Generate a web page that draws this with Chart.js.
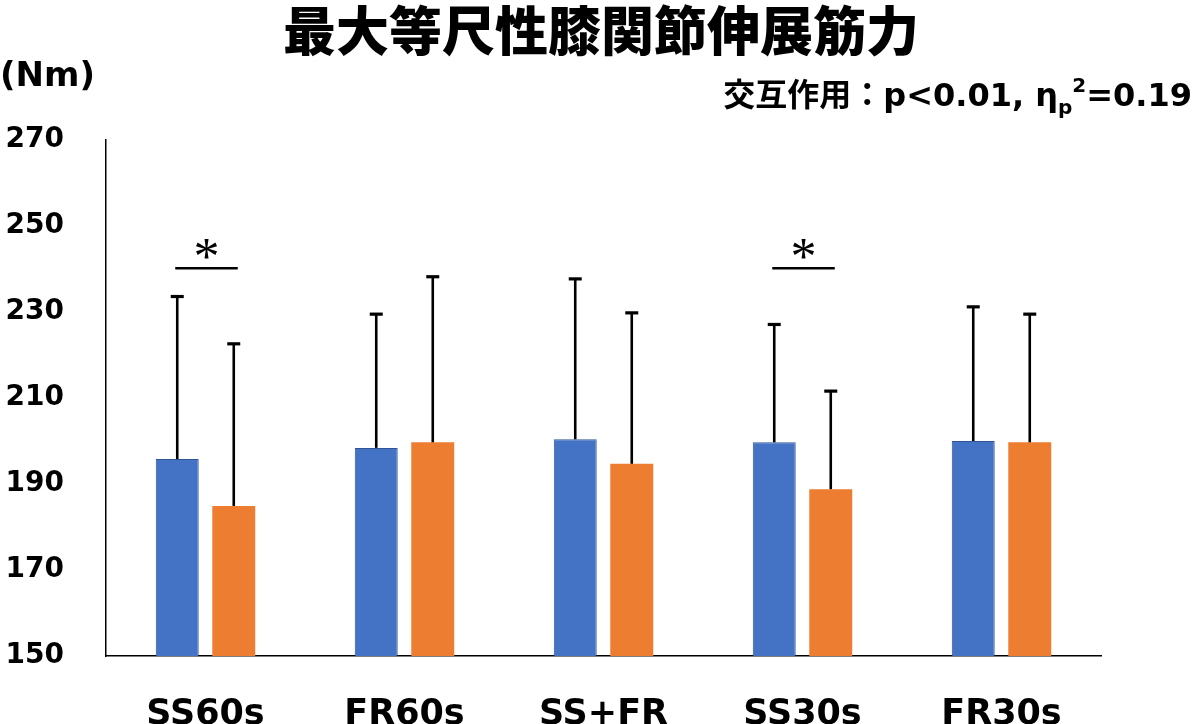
<!DOCTYPE html>
<html>
<head>
<meta charset="utf-8">
<script src="https://cdn.jsdelivr.net/npm/chart.js@4.4.1/dist/chart.umd.min.js"></script>
<style>
  html, body { margin: 0; padding: 0; background: #fff; }
  #wrap { width: 1200px; height: 724px; position: relative; }
</style>
</head>
<body>
<div id="wrap"><canvas id="chart"></canvas></div>
<script>
// データ (Nm)
const categories = ['SS60s', 'FR60s', 'SS+FR', 'SS30s', 'FR30s'];
const blueMean   = [195.8, 198.4, 200.4, 199.7, 200.0];
const blueSD     = [37.8, 31.1, 37.3, 27.4, 31.2];
const orangeMean = [184.9, 199.7, 194.7, 188.8, 199.7];
const orangeSD   = [37.7, 38.5, 35.1, 22.8, 29.8];
const yMin = 150, yMax = 270, yStep = 20;
const sigGroups = [0, 3];   // * のついた群
const sigLevel = 240.2;

const titleText = '最大等尺性膝関節伸展筋力';
const unitText = '(Nm)';

const latinFont = '"DejaVu Sans", "Noto Sans CJK JP", sans-serif';
const cjkFont = '"Noto Sans CJK JP", sans-serif';

// エラーバー（平均＋SD）
const errorBars = {
  id: 'errorBars',
  afterDatasetsDraw(chart) {
    const ctx = chart.ctx;
    const y = chart.scales.y;
    const sds = [blueSD, orangeSD];
    ctx.save();
    ctx.strokeStyle = '#000';
    chart.data.datasets.forEach((ds, di) => {
      chart.getDatasetMeta(di).data.forEach((bar, i) => {
        const top = y.getPixelForValue(ds.data[i] + sds[di][i]);
        ctx.lineWidth = 2.6;
        ctx.beginPath();
        ctx.moveTo(bar.x, bar.y);
        ctx.lineTo(bar.x, top);
        ctx.stroke();
        ctx.lineWidth = 3.2;
        ctx.beginPath();
        ctx.moveTo(bar.x - 6.5, top);
        ctx.lineTo(bar.x + 6.5, top);
        ctx.stroke();
      });
    });
    ctx.restore();
  }
};

// タイトル・有意差マーク・単位・交互作用の表記
const annotations = {
  id: 'annotations',
  afterDraw(chart) {
    const ctx = chart.ctx;
    const y = chart.scales.y;
    ctx.save();
    ctx.fillStyle = '#000';
    ctx.strokeStyle = '#000';

    ctx.font = '900 53px ' + cjkFont;
    ctx.textAlign = 'center';
    ctx.textBaseline = 'middle';
    ctx.fillText(titleText, 601, 31);

    sigGroups.forEach(i => {
      const b0 = chart.getDatasetMeta(0).data[i];
      const b1 = chart.getDatasetMeta(1).data[i];
      const ly = y.getPixelForValue(sigLevel);
      ctx.lineWidth = 2.5;
      ctx.beginPath();
      ctx.moveTo(b0.x - 2, ly);
      ctx.lineTo(b1.x + 4, ly);
      ctx.stroke();
      ctx.font = '52px "Liberation Serif", serif';
      ctx.textAlign = 'center';
      ctx.textBaseline = 'alphabetic';
      ctx.fillText('*', (b0.x + b1.x) / 2 + 1, ly + 6);
    });

    ctx.font = 'bold 34px ' + latinFont;
    ctx.textAlign = 'left';
    ctx.textBaseline = 'middle';
    ctx.fillText(unitText, 0, 77);

    // 交互作用：p<0.01, ηp²=0.19
    const jp = 'bold 32px ' + cjkFont;
    const big = 'bold 32px ' + latinFont;
    const small = 'bold 20px ' + latinFont;
    const parts = [
      { t: '交互作用：', f: jp, dy: 0 },
      { t: 'p<0.01, η', f: big, dy: 0 },
      { t: 'p', f: small, dy: 8 },
      { t: '2', f: small, dy: -14 },
      { t: '=0.19', f: big, dy: 0 }
    ];
    let total = 0;
    parts.forEach(p => { ctx.font = p.f; p.w = ctx.measureText(p.t).width; total += p.w; });
    let x = 1192 - total;
    const base = 106;
    ctx.textBaseline = 'alphabetic';
    parts.forEach(p => {
      ctx.font = p.f;
      ctx.fillText(p.t, x, base + p.dy);
      x += p.w;
    });
    ctx.restore();
  }
};

new Chart(document.getElementById('chart'), {
  type: 'bar',
  data: {
    labels: categories,
    datasets: [{
      label: '系列1',
      data: blueMean,
      backgroundColor: '#4472C4',
      borderColor: '#2F5597',
      borderWidth: 1
    }, {
      label: '系列2',
      data: orangeMean,
      backgroundColor: '#ED7D31',
      borderWidth: 0
    }]
  },
  options: {
    responsive: true,
    maintainAspectRatio: false,
    animation: false,
    datasets: {
      bar: { categoryPercentage: 0.568, barPercentage: 0.76 }
    },
    layout: { padding: { top: 140, left: 0, right: 99, bottom: 0 } },
    plugins: {
      legend: { display: false },
      tooltip: { enabled: false },
      title: { display: false }
    },
    scales: {
      x: {
        grid: { display: false },
        border: { display: true, color: '#000', width: 1.5 },
        ticks: {
          color: '#000',
          padding: 30,
          font: { family: latinFont, size: 35, weight: 'bold' }
        },
        afterFit(scale) { scale.height = 68; }
      },
      y: {
        min: yMin,
        max: yMax,
        grid: { display: false },
        border: { display: true, color: '#000', width: 1.5 },
        ticks: {
          stepSize: yStep,
          color: '#000',
          padding: 34,
          font: { family: latinFont, size: 28, weight: 'bold' }
        },
        afterFit(scale) { scale.width = 106; }
      }
    }
  },
  plugins: [errorBars, annotations]
});
</script>
</body>
</html>
